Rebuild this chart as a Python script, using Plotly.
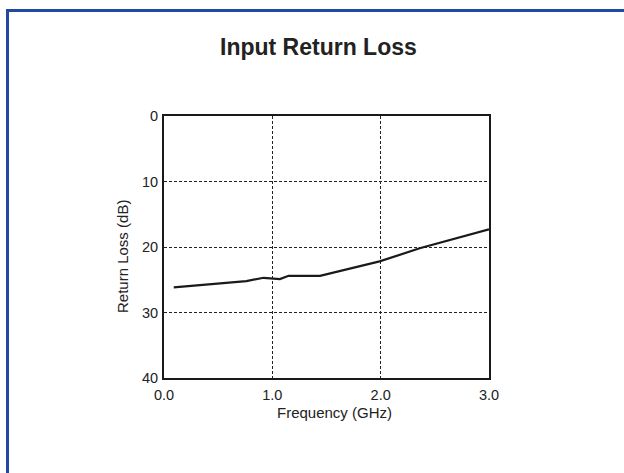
import plotly.graph_objects as go

freq_ghz = [0.09, 0.45, 0.76, 0.92, 0.99, 1.07, 1.15, 1.23, 1.44, 1.99, 2.36, 3.0]
return_loss_db = [26.15, 25.65, 25.2, 24.7, 24.8, 24.9, 24.4, 24.4, 24.4, 22.2, 20.2, 17.3]
x_ticks = [0, 1, 2, 3]
x_tick_labels = ["0.0", "1.0", "2.0", "3.0"]
y_ticks = [0, 10, 20, 30, 40]
y_tick_labels = ["0", "10", "20", "30", "40"]

OFF = 0  # page body margin removed via post_script
W, H = 624, 473
L, T = 164 - OFF, 116 - OFF
pw, ph = 325, 262
R, B = W - L - pw, H - T - ph

def px(x):
    return (x - OFF - L) / pw

def py(y):
    return 1 - (y - OFF - T) / ph

font = "Liberation Sans, Arial, Helvetica, sans-serif"

fig = go.Figure()
fig.add_trace(go.Scatter(x=freq_ghz, y=return_loss_db, mode="lines",
                         line=dict(color="#1a1a1a", width=2.2),
                         showlegend=False, hoverinfo="skip"))

axis_common = dict(showgrid=True, gridcolor="#222222", griddash="3px,2px", gridwidth=1,
                   showline=True, linecolor="#1a1a1a", linewidth=2, mirror=True,
                   ticks="", zeroline=False,
                   tickfont=dict(family=font, size=14.5, color="#222222"))

fig.update_xaxes(range=[0, 3], tickvals=x_ticks, ticktext=x_tick_labels, ticklabelstandoff=3, **axis_common)
fig.update_yaxes(range=[40, 0], tickvals=y_ticks, ticktext=y_tick_labels, ticklabelstandoff=1, **axis_common)

fig.add_annotation(text="<b>Input Return Loss</b>", xref="paper", yref="paper",
                   x=px(318), y=py(47), xanchor="center", yanchor="middle", showarrow=False,
                   font=dict(family=font, size=23, color="#222222"))
fig.add_annotation(text="Frequency (GHz)", xref="paper", yref="paper",
                   x=px(334), y=py(412), xanchor="center", yanchor="middle", showarrow=False,
                   font=dict(family=font, size=15, color="#222222"))
fig.add_annotation(text="Return Loss (dB)", xref="paper", yref="paper",
                   x=px(122), y=py(257), xanchor="center", yanchor="middle", showarrow=False,
                   textangle=-90, font=dict(family=font, size=15, color="#222222"))

fig.add_shape(type="rect", xref="paper", yref="paper",
              x0=px(7.5), y0=py(10.5), x1=px(700), y1=py(600),
              line=dict(color="#1f4aa0", width=3), fillcolor="rgba(0,0,0,0)", layer="below")

fig.update_layout(width=W, height=H, margin=dict(l=L, r=R, t=T, b=B, autoexpand=False),
                  paper_bgcolor="white", plot_bgcolor="white")

fig.write_html("out.html", config={"displayModeBar": False},
               post_script="document.body.style.margin='0';")
